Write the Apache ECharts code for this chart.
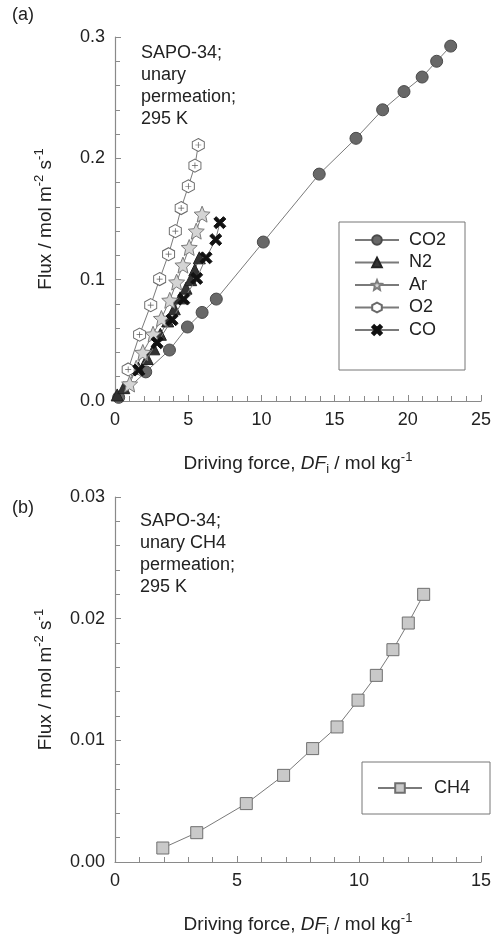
<!DOCTYPE html>
<html>
<head>
<meta charset="utf-8">
<script src="https://cdn.jsdelivr.net/npm/echarts@6/dist/echarts.min.js"></script>
<style>
  html, body { margin: 0; padding: 0; background: #fff; }
  #chart { width: 498px; height: 939px; }
</style>
</head>
<body>
<div id="chart"></div>
<script>
// Panel (a): unary permeation flux vs driving force, [DF_i (mol/kg), flux (mol m-2 s-1)]
const co2 = [[0.25, 0.003], [2.1, 0.024], [3.72, 0.042], [4.95, 0.061], [5.95, 0.073], [6.92, 0.084],
             [10.13, 0.131], [13.95, 0.187], [16.46, 0.2165], [18.28, 0.240], [19.74, 0.255],
             [20.98, 0.267], [21.97, 0.280], [22.93, 0.2925]];
const n2 = [[0.15, 0.005], [0.6, 0.011], [1.6, 0.027], [2.2, 0.035], [2.65, 0.043], [3.1, 0.055],
            [3.6, 0.066], [4.05, 0.076], [4.45, 0.085], [4.85, 0.093], [5.17, 0.100], [5.45, 0.108],
            [5.76, 0.118]];
const ar = [[1.0, 0.014], [1.45, 0.027], [1.9, 0.040], [2.6, 0.055], [3.17, 0.068], [3.74, 0.083],
            [4.21, 0.098], [4.64, 0.112], [5.07, 0.1265], [5.55, 0.140], [5.95, 0.154]];
const o2 = [[0.9, 0.026], [1.68, 0.0547], [2.44, 0.079], [3.05, 0.1005], [3.66, 0.121], [4.12, 0.140],
            [4.52, 0.159], [5.01, 0.177], [5.46, 0.194], [5.69, 0.211]];
const co = [[1.62, 0.0255], [2.88, 0.048], [3.9, 0.067], [4.7, 0.084], [5.58, 0.101], [6.22, 0.118],
            [6.88, 0.133], [7.16, 0.147]];

// Panel (b): unary CH4 permeation
const ch4 = [[1.96, 0.00115], [3.35, 0.00241], [5.38, 0.0048], [6.91, 0.00712], [8.10, 0.00932],
             [9.10, 0.0111], [9.96, 0.0133], [10.71, 0.01534], [11.39, 0.01745], [12.02, 0.01964],
             [12.65, 0.0220]];

const legendA = ['CO2', 'N2', 'Ar', 'O2', 'CO'];
const legendB = ['CH4'];

const FONT = '"Liberation Sans", Arial, sans-serif';
const INK = '#222';
const AXIS = '#8a8a8a';
const LINE = '#7a7a7a';

const STAR = 'path://M5,0 L6.35,3.15 L9.76,3.45 L7.18,5.7 L7.94,9.05 L5,7.3 L2.06,9.05 L2.82,5.7 L0.24,3.45 L3.65,3.15 Z';
const HEX = 'path://M5,0 L9.33,2.5 L9.33,7.5 L5,10 L0.67,7.5 L0.67,2.5 Z';
const PLUS = 'path://M4.4,0 H5.6 V4.4 H10 V5.6 H5.6 V10 H4.4 V5.6 H0 V4.4 H4.4 Z';
const CROSS = 'path://M0,2 L2,0 L5,3 L8,0 L10,2 L7,5 L10,8 L8,10 L5,7 L2,10 L0,8 L3,5 Z';

const rich = {
  n: { fontSize: 19, fontFamily: FONT, color: INK, lineHeight: 25 },
  it: { fontSize: 19, fontFamily: FONT, color: INK, fontStyle: 'italic', lineHeight: 25 },
  sub: { fontSize: 13, fontFamily: FONT, color: INK, verticalAlign: 'bottom', lineHeight: 25 },
  sup: { fontSize: 13, fontFamily: FONT, color: INK, verticalAlign: 'top', lineHeight: 25 }
};
const xName = '{n|Driving force, }{it|DF}{sub|i}{n| / mol kg}{sup|-1}';
const yName = '{n|Flux / mol m}{sup|-2}{n| s}{sup|-1}';

function xAxisCfg(gridIndex, max) {
  return {
    type: 'value', gridIndex, min: 0, max, interval: 5,
    name: xName, nameLocation: 'middle', nameGap: 50,
    nameTextStyle: { rich },
    axisLine: { show: true, lineStyle: { color: AXIS, width: 1.2 } },
    axisTick: { show: true, inside: true, length: 6, lineStyle: { color: AXIS } },
    minorTick: { show: true, splitNumber: 5, length: 5, lineStyle: { color: AXIS } },
    axisLabel: { fontSize: 18, fontFamily: FONT, color: INK, margin: 10 },
    splitLine: { show: false }
  };
}
function yAxisCfg(gridIndex, max, digits) {
  return {
    type: 'value', gridIndex, min: 0, max, interval: max / 3,
    name: yName, nameLocation: 'middle', nameGap: 57, nameRotate: 90,
    nameTextStyle: { rich },
    axisLine: { show: true, lineStyle: { color: AXIS, width: 1.2 } },
    axisTick: { show: true, inside: true, length: 6, lineStyle: { color: AXIS } },
    minorTick: { show: true, splitNumber: 5, length: 5, lineStyle: { color: AXIS } },
    axisLabel: { fontSize: 18, fontFamily: FONT, color: INK, margin: 10,
                 formatter: v => v.toFixed(digits) },
    splitLine: { show: false }
  };
}

function lineSeries(name, data, symbol, size, fill, border, idx, extra) {
  return Object.assign({
    name, type: 'line', data, xAxisIndex: idx, yAxisIndex: idx,
    symbol, symbolSize: size, showSymbol: true, animation: false,
    lineStyle: { color: LINE, width: 1 },
    itemStyle: { color: fill, borderColor: border, borderWidth: 1 },
    emphasis: { disabled: true }
  }, extra || {});
}

const chart = echarts.init(document.getElementById('chart'), null, { renderer: 'canvas' });
const labelStyle = { fontSize: 18, fontFamily: FONT, color: INK, fontWeight: 'normal', lineHeight: 22 };

chart.setOption({
  backgroundColor: '#fff',
  animation: false,
  title: [
    { text: '(a)', left: 12, top: 4, padding: 0, textStyle: labelStyle },
    { text: 'SAPO-34;\nunary\npermeation;\n295 K', left: 141, top: 42, padding: 0, textStyle: labelStyle },
    { text: '(b)', left: 12, top: 497, padding: 0, textStyle: labelStyle },
    { text: 'SAPO-34;\nunary CH4\npermeation;\n295 K', left: 140, top: 510, padding: 0, textStyle: labelStyle }
  ],
  grid: [
    { left: 115, top: 37, width: 366, height: 364 },
    { left: 115, top: 497, width: 366, height: 365 }
  ],
  xAxis: [xAxisCfg(0, 25), xAxisCfg(1, 15)],
  yAxis: [yAxisCfg(0, 0.3, 1), yAxisCfg(1, 0.03, 2)],
  legend: [
    {
      data: legendA, orient: 'vertical', left: 339, top: 222,
      padding: [9, 19, 31, 15], itemGap: 4.5, itemWidth: 44, itemHeight: 12,
      borderColor: '#777', borderWidth: 1,
      textStyle: { fontSize: 18, fontFamily: FONT, color: INK, padding: [0, 0, 0, 5] }
    },
    {
      data: legendB, orient: 'vertical', left: 362, top: 762,
      padding: [17, 20, 17, 15], itemWidth: 44, itemHeight: 12,
      borderColor: '#777', borderWidth: 1,
      textStyle: { fontSize: 18, fontFamily: FONT, color: INK, padding: [0, 0, 0, 7] }
    }
  ],
  series: [
    lineSeries('CO2', co2, 'circle', 12, '#686868', '#4a4a4a', 0),
    lineSeries('N2', n2, 'triangle', 12, '#333333', '#222222', 0),
    lineSeries('Ar', ar, STAR, 16, '#d4d4d4', '#7c7c7c', 0),
    lineSeries('O2', o2, HEX, [12, 13], '#ffffff', '#6a6a6a', 0),
    // the small cross drawn inside each O2 hexagon
    {
      name: 'O2 centre', type: 'scatter', data: o2, xAxisIndex: 0, yAxisIndex: 0,
      symbol: PLUS, symbolSize: 6, itemStyle: { color: '#333' }, silent: true, z: 5,
      animation: false
    },
    lineSeries('CO', co, CROSS, 12, '#111111', '#111111', 0, { z: 4 }),
    lineSeries('CH4', ch4, 'rect', 12, '#c9c9c9', '#6f6f6f', 1)
  ]
});
</script>
</body>
</html>
